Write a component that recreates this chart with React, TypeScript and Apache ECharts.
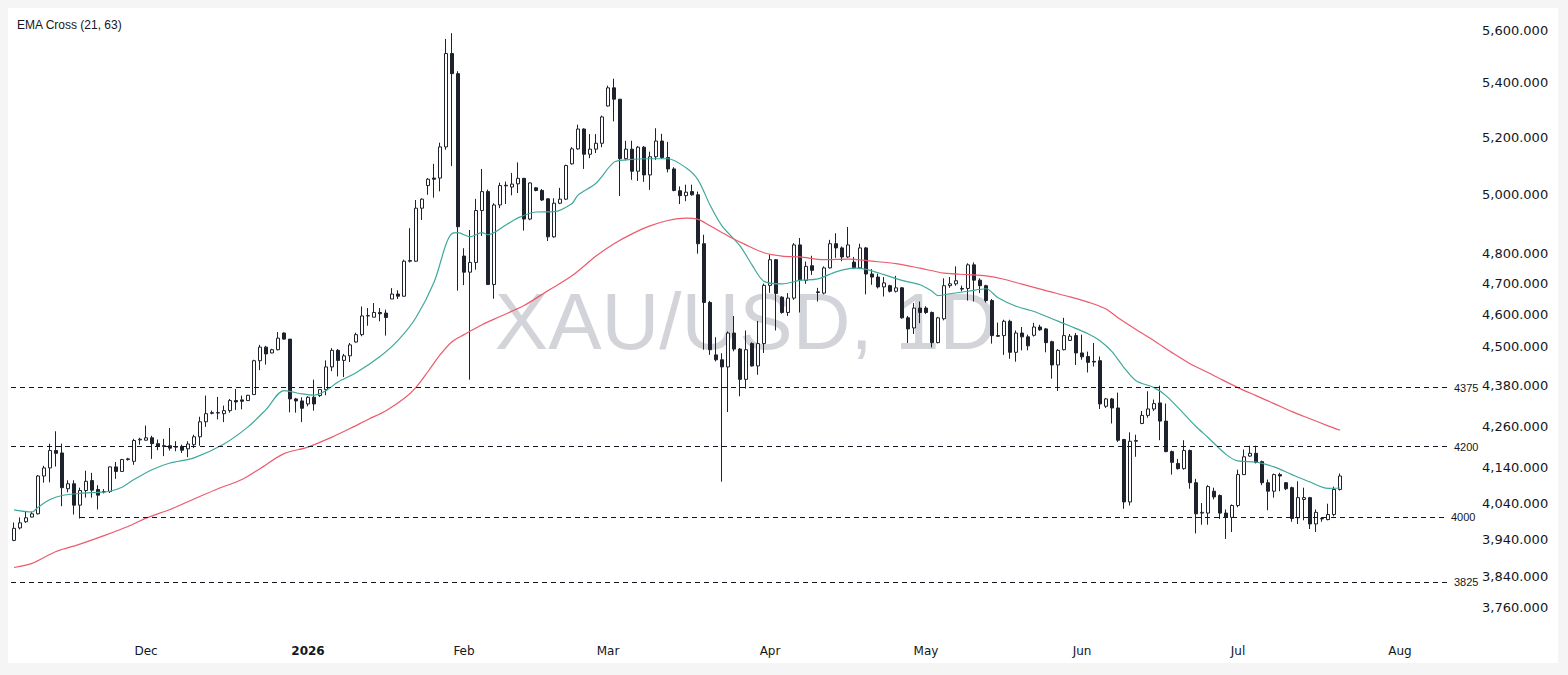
import React, { useEffect, useRef } from "react";
import * as echarts from "echarts";

// ---- Data (XAU/USD daily) ----
const opens = [
  3937, 3971, 3988, 4001, 4010, 4116, 4139, 4189, 4182, 4080, 4094, 4034, 4075, 4103, 4078, 4072, 4072, 4142, 4129, 4163,
  4158, 4220, 4219, 4226, 4209, 4203, 4203, 4200, 4201, 4194, 4206, 4229, 4273, 4298, 4300, 4297, 4306, 4336, 4338, 4336,
  4354, 4457, 4499, 4481, 4491, 4543, 4524, 4341, 4335, 4326, 4346, 4351, 4369, 4438, 4489, 4458, 4472, 4515, 4538, 4597,
  4593, 4608, 4606, 4651, 4667, 4660, 4774, 4774, 4952, 5030, 5056, 5056, 5166, 5510, 5434, 4791, 4738, 4770, 4944, 5009,
  4698, 4963, 5031, 5025, 5036, 5055, 4915, 5022, 5013, 4984, 4855, 4969, 4983, 5106, 5159, 5230, 5140, 5158, 5179, 5314,
  5381, 5339, 5124, 5158, 5080, 5165, 5067, 5131, 5187, 5128, 5088, 5012, 4995, 5009, 4998, 4832, 4640, 4475, 4460, 4438,
  4543, 4493, 4400, 4510, 4441, 4510, 4695, 4779, 4657, 4608, 4654, 4828, 4711, 4759, 4674, 4670, 4752, 4832, 4818, 4788,
  4771, 4752, 4818, 4732, 4722, 4690, 4694, 4676, 4687, 4591, 4559, 4622, 4622, 4608, 4513, 4588, 4694, 4700, 4685, 4685,
  4762, 4712, 4694, 4646, 4535, 4535, 4580, 4483, 4543, 4531, 4536, 4562, 4556, 4516, 4444, 4491, 4520, 4535, 4481, 4470,
  4455, 4457, 4319, 4341, 4314, 4221, 4043, 4216, 4268, 4292, 4311, 4329, 4275, 4186, 4152, 4137, 4189, 4097, 4012, 4012,
  4073, 4061, 4012, 4000, 4033, 4120, 4173, 4181, 4157, 4097, 4073, 4120, 4097, 4083, 3999, 4050, 4055, 3982, 3996, 3994,
  4008, 4078,
];
const closes = [
  3970, 3985, 3999, 4010, 4116, 4139, 4189, 4181, 4083, 4094, 4034, 4075, 4101, 4076, 4062, 4071, 4142, 4129, 4163, 4165,
  4218, 4222, 4226, 4209, 4201, 4201, 4196, 4199, 4190, 4208, 4229, 4273, 4297, 4300, 4299, 4306, 4336, 4332, 4334, 4352,
  4457, 4499, 4478, 4491, 4527, 4524, 4341, 4335, 4313, 4346, 4326, 4369, 4438, 4489, 4458, 4472, 4506, 4538, 4597, 4598,
  4608, 4604, 4592, 4667, 4660, 4774, 4776, 4952, 4983, 5052, 5052, 5166, 5510, 5434, 4889, 4738, 4770, 4944, 5009, 4698,
  4963, 5030, 5029, 5035, 5055, 4915, 5039, 5013, 4980, 4855, 4969, 4983, 5100, 5159, 5230, 5140, 5158, 5179, 5274, 5381,
  5339, 5124, 5158, 5080, 5165, 5067, 5131, 5187, 5128, 5088, 5013, 4995, 5007, 4998, 4832, 4640, 4491, 4460, 4438, 4543,
  4493, 4400, 4491, 4441, 4510, 4695, 4779, 4669, 4608, 4654, 4828, 4713, 4757, 4744, 4672, 4752, 4832, 4818, 4788, 4828,
  4752, 4818, 4732, 4722, 4690, 4703, 4676, 4687, 4591, 4556, 4622, 4608, 4608, 4513, 4591, 4694, 4700, 4710, 4683, 4762,
  4712, 4694, 4646, 4535, 4533, 4580, 4483, 4543, 4531, 4503, 4562, 4553, 4513, 4444, 4489, 4535, 4533, 4481, 4469, 4452,
  4453, 4326, 4341, 4314, 4219, 4043, 4216, 4218, 4292, 4311, 4327, 4275, 4186, 4155, 4137, 4189, 4097, 4010, 4014, 4086,
  4057, 4012, 4000, 4033, 4120, 4171, 4181, 4155, 4097, 4073, 4120, 4116, 4080, 3997, 4055, 4055, 3982, 4014, 3997, 4008,
  4078, 4116,
];
const lows = [
  3935, 3967, 3985, 4000, 4008, 4097, 4098, 4143, 4031, 4070, 4008, 3997, 4055, 4055, 4022, 4067, 4068, 4108, 4129, 4160,
  4148, 4206, 4218, 4165, 4190, 4173, 4189, 4187, 4182, 4170, 4196, 4203, 4258, 4295, 4280, 4272, 4300, 4308, 4310, 4335,
  4354, 4428, 4445, 4480, 4489, 4522, 4301, 4300, 4272, 4319, 4306, 4347, 4352, 4425, 4409, 4407, 4453, 4513, 4533, 4566,
  4593, 4580, 4535, 4651, 4651, 4658, 4770, 4772, 4912, 4998, 4988, 5010, 5156, 5098, 4678, 4696, 4399, 4746, 4858, 4696,
  4652, 4952, 4966, 4996, 5004, 4876, 4911, 5010, 4977, 4841, 4852, 4966, 4980, 5103, 5156, 5088, 5126, 5144, 5165, 5312,
  5258, 4994, 5118, 5050, 5046, 5043, 5015, 5120, 5123, 5076, 5010, 4966, 4976, 4995, 4799, 4491, 4475, 4455, 4100, 4302,
  4486, 4349, 4372, 4439, 4414, 4481, 4671, 4551, 4604, 4597, 4648, 4608, 4700, 4729, 4643, 4666, 4750, 4785, 4774, 4785,
  4748, 4748, 4666, 4697, 4685, 4659, 4672, 4672, 4588, 4512, 4540, 4574, 4603, 4498, 4511, 4583, 4687, 4694, 4676, 4646,
  4643, 4670, 4640, 4510, 4531, 4475, 4463, 4454, 4489, 4489, 4532, 4550, 4483, 4402, 4365, 4489, 4518, 4444, 4460, 4421,
  4439, 4311, 4314, 4268, 4214, 4024, 4033, 4171, 4266, 4285, 4305, 4219, 4184, 4120, 4134, 4134, 4080, 3956, 3980, 3980,
  4050, 3996, 3941, 3960, 4028, 4119, 4171, 4152, 4090, 4020, 4055, 4073, 4076, 3988, 3982, 3992, 3968, 3960, 3988, 3992,
  4003, 4075,
];
const highs = [
  3986, 4000, 4017, 4016, 4119, 4145, 4209, 4245, 4209, 4104, 4104, 4083, 4131, 4125, 4090, 4079, 4143, 4156, 4165, 4168,
  4223, 4226, 4262, 4232, 4221, 4223, 4255, 4216, 4206, 4216, 4235, 4288, 4351, 4306, 4347, 4321, 4341, 4371, 4351, 4353,
  4460, 4506, 4503, 4494, 4546, 4545, 4524, 4344, 4346, 4349, 4399, 4369, 4458, 4496, 4493, 4478, 4512, 4544, 4627, 4622,
  4638, 4622, 4617, 4686, 4679, 4779, 4884, 4980, 4986, 5056, 5106, 5181, 5566, 5588, 5443, 4817, 4878, 4984, 5088, 5016,
  4969, 5040, 5044, 5074, 5111, 5057, 5041, 5025, 5018, 4986, 4986, 5022, 5103, 5165, 5246, 5233, 5212, 5212, 5279, 5389,
  5415, 5339, 5188, 5188, 5169, 5169, 5149, 5233, 5213, 5184, 5094, 5027, 5033, 5033, 5009, 4862, 4645, 4530, 4480, 4548,
  4597, 4496, 4551, 4514, 4581, 4701, 4796, 4781, 4660, 4670, 4834, 4851, 4773, 4792, 4687, 4757, 4845, 4867, 4823, 4888,
  4788, 4832, 4821, 4748, 4733, 4722, 4697, 4726, 4690, 4597, 4638, 4643, 4628, 4611, 4594, 4718, 4722, 4757, 4694, 4767,
  4770, 4718, 4697, 4651, 4576, 4585, 4585, 4551, 4562, 4538, 4575, 4569, 4559, 4519, 4493, 4591, 4540, 4543, 4538, 4485,
  4512, 4470, 4344, 4344, 4360, 4223, 4242, 4235, 4305, 4364, 4339, 4381, 4327, 4189, 4165, 4219, 4192, 4108, 4040, 4090,
  4083, 4064, 4022, 4036, 4134, 4192, 4203, 4203, 4160, 4106, 4123, 4125, 4099, 4086, 4101, 4083, 4057, 4022, 4001, 4038,
  4086, 4123,
];

// EMA lines: [bar index, value]
const ema21 = [
  [0, 4021], [3, 4015], [4, 4028], [6, 4050], [8, 4061], [11, 4067], [14, 4070], [16, 4073], [18, 4084], [20, 4106],
  [23, 4134], [26, 4153], [30, 4168], [35, 4208], [39, 4258], [42, 4309], [45, 4366], [48, 4356], [50, 4352], [52, 4366],
  [54, 4392], [57, 4420], [61, 4470], [64, 4520], [67, 4592], [70, 4705], [72, 4830], [73, 4866], [74, 4869], [76, 4855],
  [78, 4869], [79, 4862], [82, 4895], [84, 4919], [87, 4939], [90, 4940], [93, 4968], [94, 4997], [97, 5038], [100, 5112],
  [102, 5120], [106, 5124], [109, 5124], [112, 5092], [114, 5050], [116, 4963], [118, 4892], [121, 4825], [123, 4762], [125, 4708],
  [128, 4700], [131, 4711], [134, 4716], [137, 4739], [140, 4751], [142, 4747], [145, 4730], [148, 4711], [151, 4697], [153, 4676],
  [154, 4662], [156, 4668], [159, 4676], [162, 4684], [164, 4655], [167, 4628], [170, 4611], [173, 4588], [176, 4565], [179, 4541],
  [181, 4519], [183, 4485], [185, 4436], [187, 4396], [190, 4375], [192, 4351], [194, 4315], [197, 4259], [199, 4227], [202, 4178],
  [204, 4159], [207, 4156], [210, 4142], [213, 4120], [216, 4099], [219, 4081], [221, 4082],
];
const ema63 = [
  [0, 3864], [3, 3875], [7, 3907], [11, 3927], [15, 3950], [19, 3975], [22, 3998], [26, 4022], [30, 4051], [34, 4080],
  [38, 4106], [41, 4137], [45, 4180], [49, 4199], [53, 4228], [56, 4253], [59, 4280], [62, 4306], [65, 4342], [67, 4376],
  [69, 4424], [71, 4475], [73, 4516], [75, 4538], [78, 4569], [81, 4595], [85, 4630], [89, 4678], [93, 4726], [97, 4791],
  [100, 4832], [103, 4865], [106, 4892], [109, 4910], [112, 4918], [114, 4914], [116, 4892], [119, 4858], [122, 4828], [125, 4802],
  [128, 4791], [131, 4788], [135, 4779], [139, 4781], [143, 4774], [147, 4766], [151, 4751], [155, 4735], [159, 4730], [162, 4726],
  [165, 4715], [168, 4699], [172, 4678], [176, 4658], [179, 4641], [182, 4619], [184, 4591], [187, 4554], [190, 4519], [193, 4482],
  [196, 4448], [199, 4421], [201, 4402], [204, 4375], [207, 4351], [210, 4327], [213, 4303], [216, 4282], [219, 4261], [221, 4248],
];

const tickValues = [5600, 5400, 5200, 5000, 4800, 4700, 4600, 4500, 4380, 4260, 4140, 4040, 3940, 3840, 3760];
const tickLabels = [
  "5,600.000", "5,400.000", "5,200.000", "5,000.000", "4,800.000", "4,700.000", "4,600.000", "4,500.000",
  "4,380.000", "4,260.000", "4,140.000", "4,040.000", "3,940.000", "3,840.000", "3,760.000",
];
const levelValues = [4375, 4200, 4000, 3825];
const levelLabels = ["4375", "4200", "4000", "3825"];
const levelStartIndex = [null, null, 11, null];

const MONTHS = ["Jan", "Feb", "Mar", "Apr", "May", "Jun", "Jul", "Aug", "Sep", "Oct", "Nov", "Dec"];
const TOTAL_SLOTS = 240; // trading slots shown on the time axis (bars + empty right margin)
const FIRST_DAY = [2025, 10, 5]; // 5 Nov 2025

function buildCategories(): string[] {
  const out: string[] = [];
  const d = new Date(Date.UTC(FIRST_DAY[0], FIRST_DAY[1], FIRST_DAY[2]));
  while (out.length < TOTAL_SLOTS) {
    if (d.getUTCDay() !== 6) out.push(d.toISOString().slice(0, 10));
    d.setUTCDate(d.getUTCDate() + 1);
  }
  return out;
}

const INK = "#131722";

export default function App() {
  const ref = useRef<HTMLDivElement>(null);
  useEffect(() => {
    const el = ref.current;
    if (!el) return;
    const chart = echarts.init(el, null, { renderer: "svg" });
    const cats = buildCategories();
    const ohlc = opens.map((o, i) => [o, closes[i], lows[i], highs[i]]);

    const levelData: any[] = levelValues.map((v, i) => {
      const lbl = { formatter: levelLabels[i] };
      if (levelStartIndex[i] != null) {
        return [
          { coord: [levelStartIndex[i], v], label: lbl },
          { coord: [TOTAL_SLOTS - 1, v] },
        ];
      }
      return { yAxis: v, label: lbl };
    });

    const option: any = {
      animation: false,
      backgroundColor: "#f5f5f6",
      graphic: [
        { type: "rect", z: -20, shape: { x: 8, y: 8, width: 1550, height: 655 }, style: { fill: "#ffffff" } },
        {
          type: "text", z: -10, x: 746, y: 321,
          style: {
            text: "XAU/USD, 1D", fill: "#d3d4d9", align: "center", verticalAlign: "middle",
            font: "80px 'Liberation Sans', Arial, sans-serif",
          },
        },
        {
          type: "text", z: 10, x: 17, y: 25,
          style: {
            text: "EMA Cross (21, 63)", fill: INK, align: "left", verticalAlign: "middle",
            font: "12px 'Liberation Sans', Arial, sans-serif",
          },
        },
      ],
      grid: { left: 11, top: 8, width: 1440, height: 629 },
      xAxis: {
        type: "category",
        data: cats,
        boundaryGap: true,
        axisLine: { show: false },
        axisTick: { show: false },
        splitLine: { show: false },
        axisLabel: {
          interval: (idx: number, val: string) => idx > 0 && val.slice(0, 7) !== cats[idx - 1].slice(0, 7),
          formatter: (val: string) => {
            const m = parseInt(val.slice(5, 7), 10) - 1;
            return m === 0 ? `{b|${val.slice(0, 4)}}` : MONTHS[m];
          },
          color: INK,
          fontSize: 12,
          fontFamily: "'DejaVu Sans', sans-serif",
          margin: 8,
          rich: { b: { fontWeight: "bold", fontSize: 12, color: INK, fontFamily: "'DejaVu Sans', sans-serif" } },
        },
      },
      yAxis: {
        type: "log",
        logBase: 10,
        min: 3683,
        max: 5686,
        position: "right",
        axisLine: { show: false },
        axisTick: { show: false },
        axisLabel: { show: false },
        splitLine: { show: false },
      },
      series: [
        {
          type: "candlestick",
          data: ohlc,
          barWidth: 4,
          itemStyle: {
            color: "#ffffff",
            color0: "#1e222d",
            borderColor: "#1e222d",
            borderColor0: "#1e222d",
            borderWidth: 1,
          },
          markLine: {
            silent: true,
            symbol: ["none", "none"],
            lineStyle: { color: INK, width: 1, type: [5, 4] },
            label: {
              position: "end", distance: 3, color: INK, fontSize: 11,
              fontFamily: "'Liberation Sans', Arial, sans-serif",
            },
            data: levelData,
          },
        },
        {
          type: "line",
          name: "EMA 21",
          data: ema21,
          showSymbol: false,
          smooth: 0.3,
          lineStyle: { color: "#3ea99b", width: 1.2 },
          markLine: {
            silent: true,
            symbol: ["none", "none"],
            lineStyle: { color: "rgba(0,0,0,0)", width: 0, type: "solid" },
            label: {
              show: true,
              position: "end", distance: 31, color: INK, fontSize: 13,
              fontFamily: "'DejaVu Sans', sans-serif",
            },
            data: tickValues.map((v, i) => ({ yAxis: v, label: { show: true, formatter: tickLabels[i] } })),
          },
        },
        {
          type: "line",
          name: "EMA 63",
          data: ema63,
          showSymbol: false,
          smooth: 0.3,
          lineStyle: { color: "#ec5a6c", width: 1.2 },
        },
      ],
    };
    chart.setOption(option);
    return () => chart.dispose();
  }, []);
  return <div ref={ref} style={{ position: "fixed", left: 0, top: 0, width: 1568, height: 675 }} />;
}
